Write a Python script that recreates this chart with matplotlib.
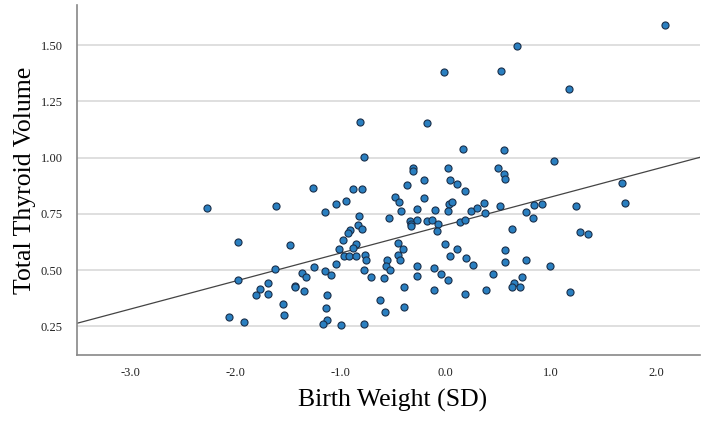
import matplotlib.pyplot as plt

# Birth weight (SD) vs total thyroid volume
birth_weight = [
    -2.27, -1.98, -1.98, -2.06, -1.92,
    -1.26, -1.61, -1.15, -1.48, -1.62, -1.25, -1.15, -1.37, -1.33, -1.69, -1.77,
    -1.80, -1.69, -1.43, -1.43, -1.35, -1.13, -1.55, -1.14, -1.54, -1.13, -1.17,
    -0.78, -0.31, -0.31, -0.88, -0.80, -0.37, -1.04, -0.95, -0.48, -0.44, -0.42,
    -0.27, -0.82, -0.54, -0.34, -0.33, -0.33, -0.27, -0.83, -0.80, -0.91, -0.93,
    -0.98, -0.85, -0.88, -1.01, -0.97, -0.92, -0.85, -0.77, -0.76, -0.45, -0.41,
    -0.45, -0.43, -0.56, -0.57, -0.53, -1.04, -0.78, -0.71, -0.59, -0.27, -0.27,
    -1.09, -0.40, -0.62, -0.40, -0.58, -1.00, -0.78,
    0.17, 0.02, 0.495, -0.21, 0.04, 0.11, 0.18, -0.21, 0.03, 0.06, 0.365, -0.10,
    0.02, 0.24, 0.30, 0.37, -0.18, -0.13, -0.07, -0.08, 0.14, 0.18, -0.01, 0.11,
    0.04, 0.19, 0.26, -0.11, -0.04, 0.02, -0.11, 0.18, 0.38, 0.45,
    -0.02, -0.81, -0.18,
    2.09, 0.68, 0.53, 1.17, 0.555, 1.033, 0.555, 0.565, 1.677, 1.708, 0.517,
    0.843, 0.919, 0.767, 0.831, 1.237, 0.631, 1.278, 1.354, 0.565, 0.565, 0.767,
    0.992, 0.726, 0.650, 0.628, 0.704, 1.183,
]
thyroid_volume = [
    0.775, 0.625, 0.456, 0.293, 0.268,
    0.864, 0.785, 0.757, 0.613, 0.505, 0.514, 0.496, 0.486, 0.471, 0.441, 0.416,
    0.391, 0.392, 0.431, 0.424, 0.407, 0.389, 0.348, 0.331, 0.300, 0.278, 0.259,
    1.003, 0.953, 0.941, 0.862, 0.862, 0.879, 0.794, 0.809, 0.827, 0.804, 0.764,
    0.770, 0.739, 0.733, 0.718, 0.706, 0.696, 0.723, 0.702, 0.684, 0.678, 0.665,
    0.635, 0.617, 0.600, 0.594, 0.563, 0.561, 0.561, 0.567, 0.544, 0.622, 0.595,
    0.566, 0.544, 0.544, 0.517, 0.502, 0.526, 0.499, 0.471, 0.466, 0.520, 0.475,
    0.477, 0.423, 0.366, 0.335, 0.314, 0.257, 0.260,
    1.037, 0.953, 0.954, 0.901, 0.902, 0.884, 0.850, 0.822, 0.795, 0.803, 0.797, 0.769,
    0.762, 0.763, 0.775, 0.753, 0.717, 0.722, 0.704, 0.675, 0.714, 0.723, 0.616, 0.594,
    0.563, 0.552, 0.524, 0.508, 0.481, 0.455, 0.411, 0.392, 0.410, 0.484,
    1.380, 1.159, 1.156,
    1.590, 1.498, 1.387, 1.304, 1.033, 0.984, 0.929, 0.907, 0.887, 0.798, 0.785,
    0.790, 0.793, 0.758, 0.730, 0.784, 0.684, 0.668, 0.662, 0.589, 0.537, 0.546,
    0.517, 0.471, 0.441, 0.423, 0.426, 0.401,
]

# fit line as drawn in the figure (intercept, slope)
fit_intercept = 0.700
fit_slope = 0.1246

x_ticks = [-3.0, -2.0, -1.0, 0.0, 1.0, 2.0]
y_ticks = [0.25, 0.50, 0.75, 1.00, 1.25, 1.50]

plt.rcParams['font.family'] = ['Liberation Serif', 'DejaVu Serif']

fig = plt.figure(figsize=(7.08, 4.28), dpi=100)
ax = fig.add_axes([0.1083, 0.1706, 0.8804, 0.8177])

xmin, xmax = -3.51, 2.42
ax.set_xlim(xmin, xmax)
ax.set_ylim(0.122, 1.679)

ax.set_yticks(y_ticks)
ax.set_yticklabels([f'{v:.2f}' for v in y_ticks])
ax.set_xticks(x_ticks)
ax.set_xticklabels([f'{v:.1f}' for v in x_ticks])
ax.tick_params(axis='both', length=0, labelsize=9, colors='#222222')
ax.tick_params(axis='y', pad=10)
ax.tick_params(axis='x', pad=9)

ax.grid(axis='y', color='#d9d9d9', linewidth=1.2)
ax.set_axisbelow(True)
for side in ['top', 'right']:
    ax.spines[side].set_visible(False)
for side in ['left', 'bottom']:
    ax.spines[side].set_color('#888888')
    ax.spines[side].set_linewidth(1.2)

ax.plot([xmin, xmax], [fit_intercept + fit_slope * xmin, fit_intercept + fit_slope * xmax],
        color='#444444', linewidth=0.9, zorder=2)
ax.scatter(birth_weight, thyroid_volume, s=26, color='#2a7fc0',
           edgecolors='#1a2f4a', linewidths=0.8, zorder=3)

ax.set_xlabel('Birth Weight (SD)', fontsize=18.5)
ax.xaxis.set_label_coords(0.5075, -0.096)
ax.set_ylabel('Total Thyroid Volume', fontsize=18.5, labelpad=3.5)

fig.savefig('out.png', dpi=100)
